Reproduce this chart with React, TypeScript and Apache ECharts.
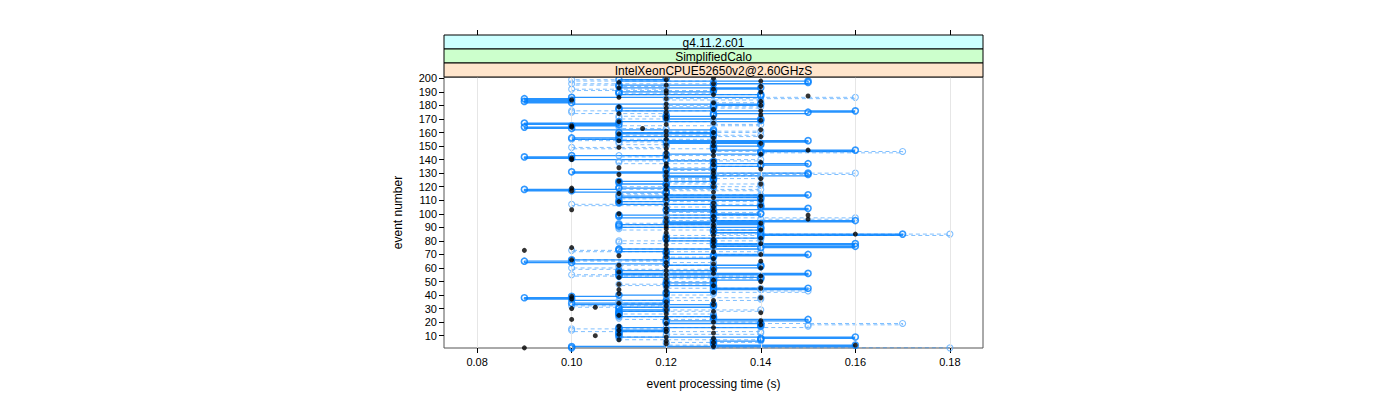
import React, { useEffect, useRef } from "react";
import * as echarts from "echarts";

const stripLabels = ["g4.11.2.c01", "SimplifiedCalo", "IntelXeonCPUE52650v2@2.60GHzS"];
const stripColors = ["#ccffff", "#ccffcc", "#ffe5cc"];
const xTicks = [0.08, 0.1, 0.12, 0.14, 0.16, 0.18];
const yTicks = [10, 20, 30, 40, 50, 60, 70, 80, 90, 100, 110, 120, 130, 140, 150, 160, 170, 180, 190, 200];
const eventNumbers = Array.from({ length: 200 }, (_, i) => i + 1);

// black filled points
const blackVals = [
  0.09, 0.13, 0.16, 0.12, 0.13, 0.12, 0.11, 0.13, 0.12, 0.105,
  0.11, 0.13, 0.12, 0.11, 0.12, 0.13, 0.11, 0.14, 0.12, 0.13,
  0.14, 0.10, 0.12, 0.13, 0.11, 0.12, 0.14, 0.13, 0.12, 0.10,
  0.105, 0.12, 0.13, 0.11, 0.12, 0.13, 0.10, 0.14, 0.10, 0.12,
  0.11, 0.13, 0.12, 0.11, 0.14, 0.12, 0.13, 0.11, 0.12, 0.14,
  0.13, 0.12, 0.11, 0.14, 0.12, 0.13, 0.11, 0.12, 0.13, 0.14,
  0.12, 0.11, 0.13, 0.12, 0.14, 0.10, 0.13, 0.12, 0.11, 0.14,
  0.12, 0.13, 0.09, 0.12, 0.10, 0.13, 0.12, 0.14, 0.13, 0.12,
  0.13, 0.14, 0.12, 0.13, 0.16, 0.12, 0.13, 0.14, 0.12, 0.13,
  0.12, 0.13, 0.14, 0.12, 0.13, 0.15, 0.12, 0.13, 0.15, 0.11,
  0.12, 0.13, 0.10, 0.12, 0.13, 0.14, 0.12, 0.13, 0.11, 0.14,
  0.12, 0.13, 0.14, 0.12, 0.11, 0.13, 0.10, 0.12, 0.10, 0.13,
  0.12, 0.14, 0.13, 0.11, 0.12, 0.14, 0.13, 0.12, 0.11, 0.13,
  0.12, 0.13, 0.14, 0.11, 0.12, 0.13, 0.12, 0.14, 0.13, 0.10,
  0.10, 0.12, 0.13, 0.14, 0.12, 0.13, 0.15, 0.12, 0.11, 0.13,
  0.12, 0.14, 0.13, 0.11, 0.12, 0.13, 0.14, 0.12, 0.11, 0.13,
  0.12, 0.14, 0.115, 0.10, 0.10, 0.12, 0.13, 0.11, 0.14, 0.12,
  0.13, 0.12, 0.14, 0.11, 0.12, 0.14, 0.13, 0.12, 0.11, 0.14,
  0.12, 0.13, 0.14, 0.10, 0.12, 0.11, 0.15, 0.13, 0.12, 0.14,
  0.12, 0.13, 0.11, 0.14, 0.12, 0.13, 0.11, 0.14, 0.12, 0.13,
];

// blue open circles, solid step line
const blueVals = [
  0.10, 0.10, 0.16, 0.13, 0.13, 0.13, 0.14, 0.14, 0.16, 0.11,
  0.11, 0.11, 0.11, 0.12, 0.11, 0.11, 0.14, 0.14, 0.14, 0.12,
  0.12, 0.15, 0.13, 0.13, 0.11, 0.11, 0.11, 0.11, 0.12, 0.11,
  0.11, 0.13, 0.13, 0.10, 0.12, 0.12, 0.10, 0.09, 0.10, 0.11,
  0.12, 0.12, 0.13, 0.13, 0.15, 0.13, 0.13, 0.12, 0.12, 0.13,
  0.13, 0.14, 0.14, 0.11, 0.11, 0.15, 0.11, 0.11, 0.13, 0.13,
  0.14, 0.14, 0.12, 0.10, 0.09, 0.10, 0.12, 0.13, 0.13, 0.15,
  0.12, 0.12, 0.11, 0.11, 0.14, 0.16, 0.13, 0.16, 0.13, 0.13,
  0.12, 0.12, 0.14, 0.14, 0.17, 0.14, 0.13, 0.13, 0.14, 0.14,
  0.11, 0.11, 0.14, 0.12, 0.16, 0.13, 0.13, 0.11, 0.11, 0.14,
  0.13, 0.13, 0.12, 0.15, 0.14, 0.14, 0.13, 0.11, 0.11, 0.12,
  0.14, 0.14, 0.11, 0.15, 0.12, 0.12, 0.10, 0.09, 0.11, 0.13,
  0.12, 0.12, 0.11, 0.11, 0.13, 0.13, 0.13, 0.12, 0.15, 0.15,
  0.10, 0.12, 0.12, 0.13, 0.13, 0.14, 0.15, 0.13, 0.13, 0.12,
  0.10, 0.09, 0.10, 0.12, 0.14, 0.14, 0.16, 0.13, 0.13, 0.13,
  0.14, 0.14, 0.12, 0.15, 0.11, 0.10, 0.11, 0.13, 0.13, 0.11,
  0.13, 0.13, 0.10, 0.09, 0.10, 0.11, 0.09, 0.11, 0.14, 0.14,
  0.12, 0.12, 0.13, 0.13, 0.15, 0.16, 0.11, 0.11, 0.13, 0.13,
  0.14, 0.10, 0.09, 0.10, 0.09, 0.10, 0.14, 0.14, 0.11, 0.11,
  0.13, 0.13, 0.14, 0.11, 0.11, 0.13, 0.15, 0.15, 0.11, 0.12,
];

// light blue open circles, dashed step line
const lightVals = [
  0.18, 0.13, 0.13, 0.12, 0.12, 0.14, 0.14, 0.11, 0.11, 0.12,
  0.12, 0.14, 0.14, 0.10, 0.10, 0.12, 0.15, 0.15, 0.17, 0.14,
  0.13, 0.13, 0.11, 0.11, 0.13, 0.13, 0.11, 0.11, 0.14, 0.12,
  0.12, 0.10, 0.12, 0.12, 0.11, 0.11, 0.14, 0.14, 0.12, 0.12,
  0.13, 0.13, 0.15, 0.14, 0.14, 0.12, 0.12, 0.11, 0.13, 0.13,
  0.12, 0.12, 0.14, 0.14, 0.10, 0.12, 0.12, 0.13, 0.13, 0.10,
  0.11, 0.11, 0.13, 0.13, 0.12, 0.10, 0.12, 0.12, 0.13, 0.13,
  0.14, 0.14, 0.10, 0.11, 0.13, 0.13, 0.14, 0.14, 0.11, 0.11,
  0.14, 0.14, 0.12, 0.12, 0.18, 0.13, 0.14, 0.14, 0.11, 0.11,
  0.13, 0.13, 0.11, 0.12, 0.12, 0.14, 0.16, 0.12, 0.12, 0.14,
  0.14, 0.12, 0.12, 0.13, 0.13, 0.12, 0.10, 0.14, 0.14, 0.11,
  0.11, 0.12, 0.14, 0.14, 0.11, 0.12, 0.12, 0.14, 0.11, 0.11,
  0.14, 0.14, 0.12, 0.13, 0.13, 0.12, 0.14, 0.14, 0.13, 0.16,
  0.13, 0.13, 0.12, 0.12, 0.13, 0.14, 0.14, 0.11, 0.11, 0.14,
  0.12, 0.12, 0.11, 0.14, 0.14, 0.17, 0.13, 0.13, 0.10, 0.12,
  0.12, 0.11, 0.11, 0.12, 0.10, 0.13, 0.13, 0.14, 0.11, 0.11,
  0.14, 0.12, 0.12, 0.11, 0.11, 0.14, 0.13, 0.13, 0.12, 0.12,
  0.11, 0.11, 0.12, 0.12, 0.10, 0.10, 0.13, 0.13, 0.14, 0.12,
  0.13, 0.13, 0.14, 0.14, 0.12, 0.16, 0.14, 0.14, 0.11, 0.13,
  0.13, 0.10, 0.12, 0.12, 0.11, 0.10, 0.13, 0.13, 0.10, 0.12,
];

const FONT = "'Liberation Sans', Arial, Helvetica, sans-serif";

function stepPoints(vals: number[]) {
  const pts: number[][] = [];
  vals.forEach((v, i) => {
    pts.push([v, eventNumbers[i]]);
    if (i < vals.length - 1) pts.push([vals[i + 1], eventNumbers[i]]);
  });
  return pts;
}

function pointData(vals: number[]) {
  return vals.map((v, i) => [v, eventNumbers[i]]);
}

export default function App() {
  const ref = useRef<HTMLDivElement>(null);
  useEffect(() => {
    if (!ref.current) return;
    const chart = echarts.init(ref.current, null, { renderer: "svg" });
    const left = 444, top = 77, width = 539, height = 271;
    const stripH = 14;
    const graphics: any[] = [];
    stripLabels.forEach((lab, k) => {
      const y = top - stripH * (stripLabels.length - k);
      graphics.push({
        type: "rect",
        shape: { x: left, y, width, height: stripH },
        style: { fill: stripColors[k], stroke: "#000", lineWidth: 1 },
        z: 10,
      });
      graphics.push({
        type: "text",
        x: left + width / 2,
        y: y + stripH / 2 + 0.5,
        style: { text: lab, fill: "#000", font: `12px ${FONT}`, align: "center", verticalAlign: "middle" },
        z: 11,
      });
    });
    chart.setOption({
      animation: false,
      graphic: graphics,
      grid: { left, top, width, height, show: true, borderColor: "#555", borderWidth: 1, backgroundColor: "transparent" },
      xAxis: [
        {
          type: "value",
          min: 0.073,
          max: 0.187,
          position: "bottom",
          name: "event processing time (s)",
          nameLocation: "middle",
          nameGap: 30,
          nameTextStyle: { fontFamily: FONT, fontSize: 12, color: "#000" },
          axisLine: { show: false },
          axisTick: { show: true, inside: false, length: 5, customValues: xTicks, lineStyle: { color: "#000" } },
          axisLabel: {
            customValues: xTicks,
            formatter: (v: number) => v.toFixed(2),
            fontFamily: FONT,
            fontSize: 11,
            color: "#000",
            margin: 8,
          },
          splitLine: { show: false },
        },
        {
          type: "value",
          min: 0.073,
          max: 0.187,
          position: "top",
          offset: 42,
          axisLine: { show: false },
          axisTick: { show: true, inside: false, length: 5, customValues: xTicks, lineStyle: { color: "#000" } },
          axisLabel: { show: false },
          splitLine: { show: false },
        },
      ],
      yAxis: {
        type: "value",
        min: 0.9,
        max: 201,
        name: "event number",
        nameLocation: "middle",
        nameGap: 40,
        nameTextStyle: { fontFamily: FONT, fontSize: 12, color: "#000" },
        axisLine: { show: false },
        axisTick: { show: true, inside: false, length: 5, customValues: yTicks, lineStyle: { color: "#000" } },
        axisLabel: { customValues: yTicks, fontFamily: FONT, fontSize: 11, color: "#000", margin: 7 },
        splitLine: { show: false },
      },
      series: [
        {
          type: "scatter",
          data: [],
          z: 1,
          silent: true,
          markLine: {
            silent: true,
            symbol: "none",
            label: { show: false },
            lineStyle: { color: "#e6e6e6", type: "solid", width: 1 },
            data: xTicks.map((v) => ({ xAxis: v })),
          },
        },
        {
          type: "line",
          data: stepPoints(lightVals),
          showSymbol: false,
          symbol: "none",
          z: 2,
          lineStyle: { color: "rgba(0,128,255,0.5)", width: 1, type: [4, 3] },
        },
        {
          type: "line",
          data: stepPoints(blueVals),
          showSymbol: false,
          symbol: "none",
          z: 3,
          lineStyle: { color: "rgba(0,128,255,0.85)", width: 1.3 },
        },
        {
          type: "scatter",
          data: pointData(lightVals),
          symbol: "circle",
          symbolSize: 6,
          z: 4,
          itemStyle: { color: "rgba(255,255,255,0)", borderColor: "#5fafff", borderWidth: 1.1 },
        },
        {
          type: "scatter",
          data: pointData(blueVals),
          symbol: "circle",
          symbolSize: 6,
          z: 5,
          itemStyle: { color: "rgba(255,255,255,0)", borderColor: "#0080ff", borderWidth: 1.6 },
        },
        {
          type: "scatter",
          data: pointData(blackVals),
          symbol: "circle",
          symbolSize: 5,
          z: 6,
          itemStyle: { color: "#000", borderWidth: 0 },
        },
      ],
    });
    return () => chart.dispose();
  }, []);
  return (
    <div
      ref={ref}
      style={{ position: "absolute", left: 0, top: 0, width: 1400, height: 400, background: "#fff" }}
    />
  );
}
